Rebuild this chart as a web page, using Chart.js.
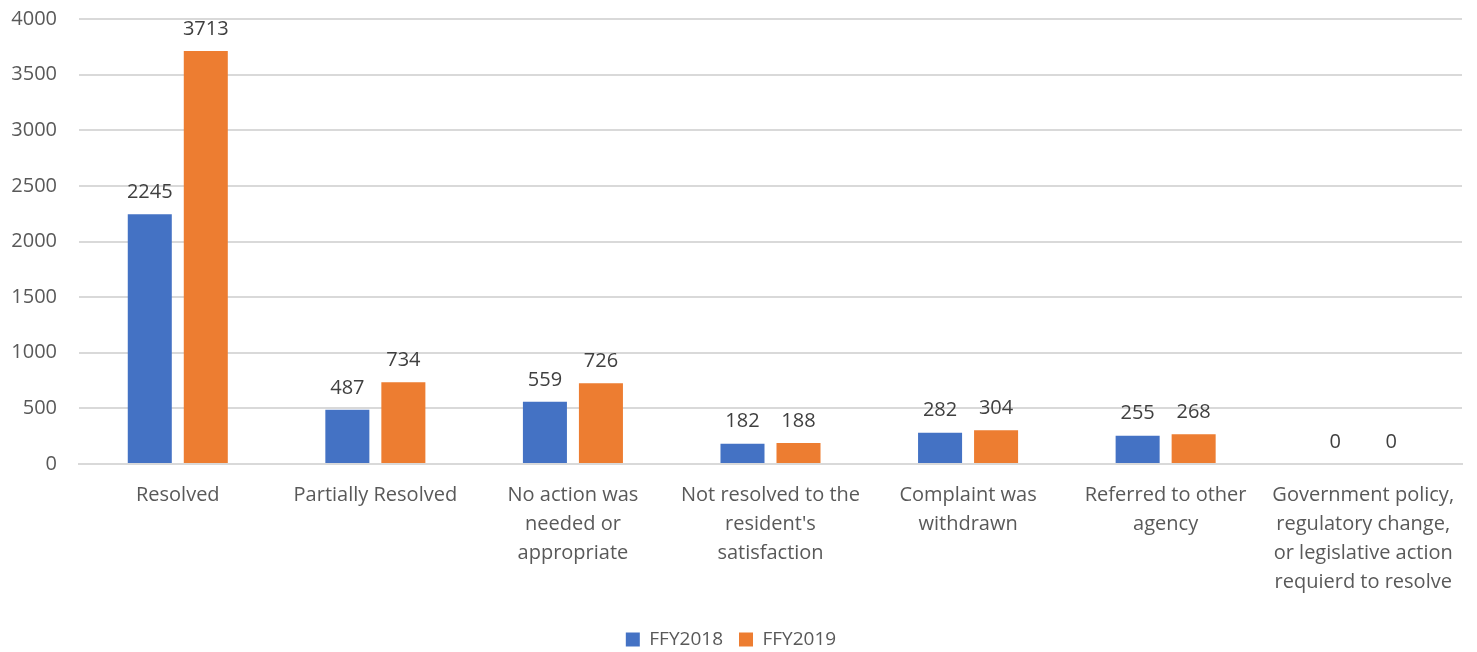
<!DOCTYPE html>
<html>
<head>
<meta charset="utf-8">
<script src="https://cdn.jsdelivr.net/npm/chart.js@4/dist/chart.umd.min.js"></script>
<style>
  html, body { margin: 0; padding: 0; background: #fff; }
  #wrap { width: 1477px; height: 652px; }
</style>
</head>
<body>
<div id="wrap"><canvas id="myChart"></canvas></div>
<script>
// Data
var categories = [
  ['Resolved'],
  ['Partially Resolved'],
  ['No action was', 'needed or', 'appropriate'],
  ['Not resolved to the', "resident's", 'satisfaction'],
  ['Complaint was', 'withdrawn'],
  ['Referred to other', 'agency'],
  ['Government policy,', 'regulatory change,', 'or legislative action', 'requierd to resolve']
];
var ffy2018 = [2245, 487, 559, 182, 282, 255, 0];
var ffy2019 = [3713, 734, 726, 188, 304, 268, 0];
var yTicks = [0, 500, 1000, 1500, 2000, 2500, 3000, 3500, 4000];

var fontFamily = "'Open Sans', sans-serif";
var fontSize = 20;

// draw the value above each bar
var barLabels = {
  id: 'barLabels',
  afterDatasetsDraw: function(chart) {
    var ctx = chart.ctx;
    ctx.save();
    ctx.font = fontSize + 'px ' + fontFamily;
    ctx.fillStyle = '#404040';
    ctx.textAlign = 'center';
    ctx.textBaseline = 'bottom';
    chart.data.datasets.forEach(function(ds, i) {
      chart.getDatasetMeta(i).data.forEach(function(bar, j) {
        ctx.fillText(ds.data[j], bar.x, bar.y - 12);
      });
    });
    ctx.restore();
  }
};

var ctx = document.getElementById('myChart');
var myChart = new Chart(ctx, {
  type: 'bar',
  data: {
    labels: categories,
    datasets: [
      {
        label: 'FFY2018',
        data: ffy2018,
        backgroundColor: '#4472c4',
        categoryPercentage: 0.567,
        barPercentage: 0.786
      },
      {
        label: 'FFY2019',
        data: ffy2019,
        backgroundColor: '#ed7d31',
        categoryPercentage: 0.567,
        barPercentage: 0.786
      }
    ]
  },
  options: {
    responsive: true,
    maintainAspectRatio: false,
    animation: false,
    layout: { padding: { top: 19, right: 15, left: 0, bottom: -7 } },
    plugins: {
      tooltip: { enabled: false },
      legend: {
        position: 'bottom',
        labels: {
          font: { family: fontFamily, size: 19 },
          color: '#595959',
          boxWidth: 14,
          boxHeight: 14,
          padding: 16
        }
      }
    },
    scales: {
      x: {
        grid: { display: false, drawTicks: false },
        border: { display: true, color: '#d9d9d9', width: 2 },
        ticks: {
          font: { family: fontFamily, size: fontSize, lineHeight: 1.45 },
          color: '#595959',
          maxRotation: 0,
          autoSkip: false,
          padding: 17
        }
      },
      y: {
        min: 0,
        max: 4000,
        afterBuildTicks: function(axis) {
          axis.ticks = yTicks.map(function(v) { return { value: v }; });
        },
        afterFit: function(axis) {
          axis.width = 79;
          axis.paddingTop = 0;
        },
        grid: { color: '#d9d9d9', lineWidth: 2, drawTicks: false },
        border: { display: false },
        ticks: {
          font: { family: fontFamily, size: fontSize },
          color: '#595959',
          padding: 22,
          callback: function(v) { return String(v); }
        }
      }
    }
  },
  plugins: [barLabels]
});
</script>
</body>
</html>
